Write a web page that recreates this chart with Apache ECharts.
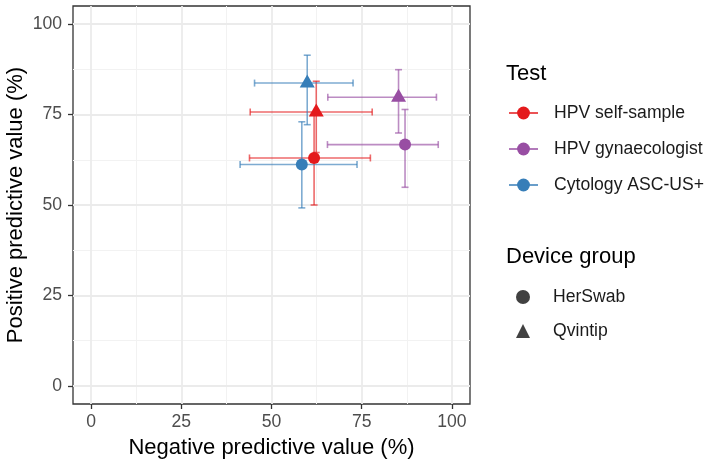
<!DOCTYPE html>
<html>
<head>
<meta charset="utf-8">
<script src="https://cdn.jsdelivr.net/npm/echarts@6/dist/echarts.min.js"></script>
<style>html,body{margin:0;padding:0;background:#fff}#c{width:713px;height:461px}</style>
</head>
<body>
<div id="c"></div>
<script>
// ---- data ----
const tests = ['HPV self-sample', 'HPV gynaecologist', 'Cytology ASC-US+'];
const testColors = ['#E41A1C', '#984EA3', '#377EB8'];
const devices = ['HerSwab', 'Qvintip'];
const rowTest   = ['HPV self-sample', 'HPV self-sample', 'HPV gynaecologist', 'HPV gynaecologist', 'Cytology ASC-US+', 'Cytology ASC-US+'];
const rowDevice = ['HerSwab', 'Qvintip', 'HerSwab', 'Qvintip', 'HerSwab', 'Qvintip'];
const npv   = [61.8, 62.4, 87.0, 85.2, 58.4, 59.9];
const npvLo = [43.9, 44.1, 65.5, 65.6, 41.3, 45.3];
const npvHi = [77.4, 77.9, 96.2, 95.7, 73.7, 72.6];
const ppv   = [63.0, 75.7, 66.7, 79.8, 61.2, 83.7];
const ppvLo = [50.0, 64.5, 54.9, 69.9, 49.2, 72.2];
const ppvHi = [75.0, 84.2, 76.4, 87.4, 73.0, 91.4];
const majorTicks = [0, 25, 50, 75, 100];
const minorTicks = [12.5, 37.5, 62.5, 87.5];

const FONT = 'Liberation Sans, Arial, sans-serif';
const chart = echarts.init(document.getElementById('c'), null, {renderer: 'canvas'});

const colorOf = t => testColors[tests.indexOf(t)];
const deviceSymbol = {HerSwab: 'circle', Qvintip: 'triangle'};

// error bar data
const ebData = rowTest.map((t, i) => ({
  value: [npv[i], ppv[i], npvLo[i], npvHi[i], ppvLo[i], ppvHi[i]],
  color: colorOf(t)
}));

const gridLines = [];
minorTicks.forEach(v => {
  gridLines.push({xAxis: v, lineStyle: {color: '#F2F2F2', width: 1, type: 'solid'}});
  gridLines.push({yAxis: v, lineStyle: {color: '#F2F2F2', width: 1, type: 'solid'}});
});
majorTicks.forEach(v => {
  gridLines.push({xAxis: v, lineStyle: {color: '#EBEBEB', width: 1.8, type: 'solid'}});
  gridLines.push({yAxis: v, lineStyle: {color: '#EBEBEB', width: 1.8, type: 'solid'}});
});

const CAP = 3.5;
const errorSeries = {
  type: 'custom',
  name: 'errorbars',
  z: 2,
  silent: true,
  encode: {x: [0, 2, 3], y: [1, 4, 5]},
  data: ebData.map(d => d.value),
  renderItem: function (params, api) {
    const d = ebData[params.dataIndex];
    const x = api.value(0), y = api.value(1);
    const p = api.coord([x, y]);
    const xl = api.coord([api.value(2), y]);
    const xh = api.coord([api.value(3), y]);
    const yl = api.coord([x, api.value(4)]);
    const yh = api.coord([x, api.value(5)]);
    const st = {stroke: d.color, lineWidth: 1.6, opacity: 0.65};
    const ln = (x1, y1, x2, y2) => ({type: 'line', shape: {x1, y1, x2, y2}, style: st});
    return {
      type: 'group',
      children: [
        ln(xl[0], p[1], xh[0], p[1]),
        ln(xl[0], p[1] - CAP, xl[0], p[1] + CAP),
        ln(xh[0], p[1] - CAP, xh[0], p[1] + CAP),
        ln(p[0], yl[1], p[0], yh[1]),
        ln(p[0] - CAP, yl[1], p[0] + CAP, yl[1]),
        ln(p[0] - CAP, yh[1], p[0] + CAP, yh[1])
      ]
    };
  },
  markLine: {
    silent: true, z: 1, animation: false,
    symbol: ['none', 'none'],
    label: {show: false},
    lineStyle: {type: 'solid'},
    data: gridLines
  }
};

// point series (one per test), drawn blue, purple, red so red on top
const drawOrder = [2, 1, 0];
const pointSeries = drawOrder.map(k => {
  const t = tests[k];
  const data = [];
  rowTest.forEach((rt, i) => {
    if (rt !== t) return;
    const isTri = deviceSymbol[rowDevice[i]] === 'triangle';
    data.push({
      value: [npv[i], ppv[i]],
      symbol: deviceSymbol[rowDevice[i]],
      symbolSize: isTri ? [15, 13] : 12,
      symbolOffset: isTri ? [0, -2] : [0, 0]
    });
  });
  return {
    type: 'line',
    name: t,
    z: 3,
    data: data,
    symbol: 'circle',
    symbolSize: 12,
    showSymbol: true,
    color: testColors[k],
    itemStyle: {color: testColors[k], opacity: 1},
    lineStyle: {opacity: 0, width: 0},
    silent: true
  };
});

const deviceSeries = devices.map(dv => ({
  type: 'scatter',
  name: dv,
  symbol: deviceSymbol[dv],
  color: '#111',
  itemStyle: {color: '#111'},
  data: []
}));

const option = {
  animation: false,
  backgroundColor: '#fff',
  grid: {
    left: 73, top: 6, right: 243, bottom: 57,
    containLabel: false, outerBoundsMode: 'none',
    show: true, borderColor: '#333', borderWidth: 1.3, backgroundColor: '#fff'
  },
  xAxis: {
    type: 'value', min: -5, max: 105,
    name: 'Negative predictive value (%)',
    nameLocation: 'middle', nameGap: 33,
    nameTextStyle: {fontFamily: FONT, fontSize: 22, color: '#000'},
    axisLine: {show: false, onZero: false},
    axisTick: {show: true, customValues: majorTicks, length: 5, lineStyle: {color: '#333', width: 1.3}},
    axisLabel: {customValues: majorTicks, margin: 9, fontFamily: FONT, fontSize: 17.6, color: '#4D4D4D'},
    splitLine: {show: false}
  },
  yAxis: {
    type: 'value', min: -5, max: 105,
    name: 'Positive predictive value (%)',
    nameLocation: 'middle', nameGap: 46, nameMoveOverlap: false,
    nameTextStyle: {fontFamily: FONT, fontSize: 22, color: '#000'},
    axisLine: {show: false, onZero: false},
    axisTick: {show: true, customValues: majorTicks, length: 5, lineStyle: {color: '#333', width: 1.3}},
    axisLabel: {customValues: majorTicks, margin: 11, fontFamily: FONT, fontSize: 17.6, color: '#4D4D4D'},
    splitLine: {show: false}
  },
  legend: [
    {
      orient: 'vertical', left: 508, top: 104, padding: 0,
      itemWidth: 29, itemHeight: 16, itemGap: 18,
      selectedMode: false,
      data: tests,
      lineStyle: {opacity: 0.75, width: 2},
      textStyle: {fontFamily: FONT, fontSize: 17.6, color: '#1A1A1A', padding: [0, 0, 0, 11]}
    },
    {
      orient: 'vertical', left: 516, top: 288, padding: 0,
      itemWidth: 14, itemHeight: 14, itemGap: 16,
      selectedMode: false,
      data: devices,
      textStyle: {fontFamily: FONT, fontSize: 17.6, color: '#1A1A1A', padding: [0, 0, 0, 18]}
    }
  ],
  graphic: [
    {type: 'text', left: 506, top: 63, style: {text: 'Test', font: '22px ' + FONT, fill: '#000'}},
    {type: 'text', left: 506, top: 246, style: {text: 'Device group', font: '22px ' + FONT, fill: '#000'}}
  ],
  series: [errorSeries].concat(pointSeries, deviceSeries)
};
chart.setOption(option);
</script>
</body>
</html>
